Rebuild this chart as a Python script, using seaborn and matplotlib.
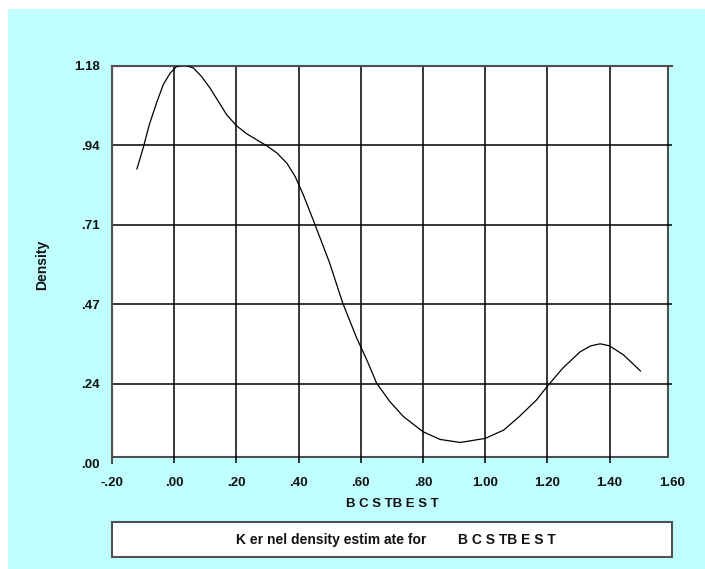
import matplotlib
matplotlib.use("Agg")
import matplotlib.pyplot as plt
from matplotlib.patches import Rectangle
from matplotlib.ticker import MultipleLocator, FixedLocator
import seaborn as sns
import pandas as pd

# ---- data ----
bcstbest = [-0.12, -0.10, -0.08, -0.055, -0.035, -0.013, 0.008, 0.035, 0.062, 0.088,
            0.115, 0.142, 0.169, 0.20, 0.233, 0.265, 0.298, 0.33, 0.362, 0.389,
            0.415, 0.447, 0.50, 0.542, 0.587, 0.62, 0.651, 0.694, 0.737, 0.80,
            0.855, 0.92, 1.00, 1.06, 1.11, 1.165, 1.20, 1.25, 1.305, 1.34,
            1.37, 1.40, 1.445, 1.50]
density = [0.873, 0.935, 1.005, 1.074, 1.124, 1.158, 1.178, 1.182, 1.173, 1.148,
           1.114, 1.074, 1.034, 1.002, 0.978, 0.960, 0.942, 0.921, 0.891, 0.851,
           0.797, 0.722, 0.594, 0.475, 0.371, 0.305, 0.237, 0.182, 0.138, 0.093,
           0.070, 0.061, 0.073, 0.098, 0.138, 0.187, 0.228, 0.282, 0.330, 0.348,
           0.354, 0.348, 0.321, 0.273]

x_ticks = [-0.20, 0.00, 0.20, 0.40, 0.60, 0.80, 1.00, 1.20, 1.40, 1.60]
x_tick_labels = ["-.20", ".00", ".20", ".40", ".60", ".80", "1.00", "1.20", "1.40", "1.60"]
y_ticks = [0.0, 0.236, 0.472, 0.708, 0.944, 1.18]
y_tick_labels = [".00", ".24", ".47", ".71", ".94", "1.18"]

x_label = "B C S TB E S T"
y_label = "Density"
legend_left = "K er nel density estim ate for"
legend_right = "B C S TB E S T"

df = pd.DataFrame({"BCSTBEST": bcstbest, "Density": density})

# ---- styling ----
sns.set_style("white")
plt.rcParams["font.family"] = ["Liberation Sans", "DejaVu Sans"]
plt.rcParams["font.weight"] = "bold"

W, H = 705, 569
fig = plt.figure(figsize=(W / 100, H / 100), dpi=100)
fig.patch.set_facecolor("white")

cyan = "#C0FFFF"
frame_col = "#505050"

# cyan backdrop
fig.add_artist(Rectangle((8 / W, 0), 1 - 8 / W, (H - 9) / H, transform=fig.transFigure,
                         facecolor=cyan, edgecolor="none", zorder=-10))

ax = fig.add_axes([112 / W, 1 - 463 / H, (671.7 - 112) / W, (463 - 65.7) / H])
ax.set_facecolor("none")

# white plotting area (frame)
ax.add_patch(Rectangle((0, 0.014), 0.993, 0.986, transform=ax.transAxes,
                       facecolor="white", edgecolor=frame_col, lw=1.5, zorder=0.1))

sns.lineplot(data=df, x="BCSTBEST", y="Density", ax=ax, color="black",
             linewidth=0.9, sort=False, zorder=3)

ax.set_xlim(-0.2, 1.6)
ax.set_ylim(0, 1.18)

ax.xaxis.set_major_locator(FixedLocator(x_ticks))
ax.set_xticklabels(x_tick_labels)
ax.yaxis.set_major_locator(FixedLocator(y_ticks))
ax.set_yticklabels(y_tick_labels)
ax.xaxis.set_minor_locator(MultipleLocator(0.1))
ax.yaxis.set_minor_locator(MultipleLocator(0.236 / 5))

ax.tick_params(axis="x", which="major", direction="out", length=6, width=1,
               color=frame_col, pad=4.0, labelsize=9.5)
ax.tick_params(axis="x", which="minor", direction="out", length=3, width=1, color=frame_col)
ax.tick_params(axis="y", which="major", direction="out", length=4.5, width=1,
               color=frame_col, pad=4.5, labelsize=9.5)
ax.tick_params(axis="y", which="minor", direction="out", length=3, width=1, color=frame_col)
for lab in ax.get_xticklabels() + ax.get_yticklabels():
    lab.set_fontweight("bold")
    lab.set_color("#111111")

ax.set_axisbelow(True)
ax.grid(True, which="major", color="black", linewidth=1.1)
xt = ax.xaxis.get_major_ticks()
xt[0].gridline.set_visible(False)
xt[-1].gridline.set_visible(False)
yt = ax.yaxis.get_major_ticks()
yt[0].gridline.set_visible(False)
yt[-1].gridline.set_visible(False)

for s in ["right", "bottom"]:
    ax.spines[s].set_visible(False)
ax.spines["left"].set_color(frame_col)
ax.spines["left"].set_linewidth(1.5)
ax.spines["top"].set_color(frame_col)
ax.spines["top"].set_linewidth(1.5)

ax.set_xlabel("")
ax.set_ylabel("")
fig.text(392 / W, 1 - 504 / H, x_label, ha="center", va="center",
         fontsize=9.5, fontweight="bold", color="#111111")
fig.text(42 / W, 1 - 265 / H, y_label, ha="center", va="center", rotation=90,
         fontsize=10, fontweight="bold", color="#111111")

# legend box
fig.add_artist(Rectangle((112 / W, 1 - 557 / H), (672 - 112) / W, (557 - 522) / H,
                         transform=fig.transFigure, facecolor="white",
                         edgecolor=frame_col, lw=1.5, zorder=1))
fig.text(331 / W, 1 - 540 / H, legend_left, ha="center", va="center",
         fontsize=10, fontweight="bold", color="#111111", zorder=2)
fig.text(507 / W, 1 - 540 / H, legend_right, ha="center", va="center",
         fontsize=10, fontweight="bold", color="#111111", zorder=2)

fig.savefig("out.png", dpi=100, facecolor=fig.get_facecolor())
